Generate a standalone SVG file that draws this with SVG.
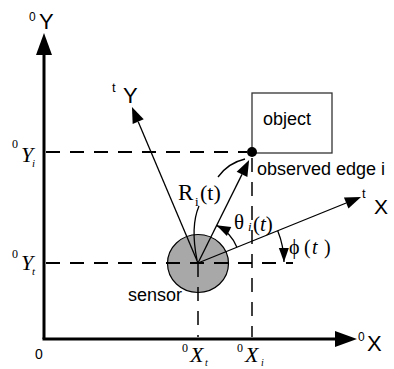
<svg xmlns="http://www.w3.org/2000/svg" width="394" height="369" viewBox="0 0 394 369">
<style>
.sans{font-family:"Liberation Sans",Arial,sans-serif;fill:#000}
.serif{font-family:"Liberation Serif","Times New Roman","DejaVu Serif",serif;fill:#000}
.it{font-style:italic}
.axis{stroke:#000;stroke-width:3;fill:none}
.thin{stroke:#000;stroke-width:1.3;fill:none}
.dash{stroke:#000;stroke-width:2;stroke-dasharray:14 10;fill:none}
.vdash{stroke:#000;stroke-width:1.5;stroke-dasharray:14 10;fill:none}
</style>
<defs>
<marker id="big" markerUnits="userSpaceOnUse" markerWidth="24" markerHeight="18" refX="0" refY="8" orient="auto" overflow="visible"><path d="M0,0 L22,8 L0,16 z" fill="#000"/></marker>
<marker id="small" markerUnits="userSpaceOnUse" markerWidth="18" markerHeight="14" refX="0" refY="6" orient="auto" overflow="visible"><path d="M0,0 L16,6 L0,12 z" fill="#000"/></marker>
<marker id="arc" markerUnits="userSpaceOnUse" markerWidth="16" markerHeight="12" refX="14" refY="5" orient="auto" overflow="visible"><path d="M0,0 L14,5 L0,10 z" fill="#000"/></marker>
</defs>

<g id="sensor">
<ellipse cx="198" cy="263.5" rx="30.5" ry="29" fill="#a8a8a8" stroke="#000" stroke-width="1.2"/>
<text class="sans" x="128" y="301" font-size="18">sensor</text>
</g>

<g id="object">
<rect x="252" y="93" width="80" height="60" fill="#fff" stroke="#333" stroke-width="1.3"/>
<text class="sans" x="263" y="125" font-size="18">object</text>
</g>

<g id="connectors">
<line class="dash" x1="46" y1="152" x2="247" y2="152"/>
<line class="dash" x1="46" y1="263" x2="293" y2="263"/>
<line class="vdash" x1="252" y1="158" x2="252" y2="337"/>
<line class="vdash" x1="198" y1="263" x2="198" y2="337"/>
<line class="axis" x1="44" y1="339" x2="44" y2="55" marker-end="url(#big)"/>
<line class="axis" x1="42.5" y1="339" x2="335" y2="339" marker-end="url(#big)"/>
<line class="thin" x1="198" y1="263" x2="138.2" y2="121.7" marker-end="url(#small)"/>
<line class="thin" x1="198" y1="263" x2="346.2" y2="203" marker-end="url(#small)"/>
<line class="thin" x1="198" y1="263" x2="242" y2="174.4" marker-end="url(#small)"/>
<path class="thin" d="M236.9,247.2 A42,42 0 0 0 216.5,225.3" marker-end="url(#arc)"/>
<path class="thin" d="M277.7,230.7 A86,86 0 0 1 284,262" marker-end="url(#arc)"/>
<path class="thin" d="M218,177 Q228,163 245,159"/>
<path class="thin" d="M199,206 C193,220 193,240 197,260"/>
</g>

<g id="edge">
<circle cx="252" cy="152" r="5" fill="#000"/>
<text class="sans" x="257" y="175" font-size="18">observed edge i</text>
</g>

<g id="labels">
<text class="sans" x="29" y="21" font-size="12">0</text>
<text class="sans" x="39" y="29" font-size="22">Y</text>
<text class="sans" x="358" y="341" font-size="12">0</text>
<text class="sans" x="367" y="351" font-size="22">X</text>
<text class="sans" x="35" y="359" font-size="14">0</text>
<text class="sans" x="112" y="92" font-size="13">t</text>
<text class="sans" x="123" y="103" font-size="22">Y</text>
<text class="sans" x="362" y="198" font-size="13">t</text>
<text class="sans" x="374" y="214" font-size="21">X</text>

<text class="serif" x="12" y="148" font-size="12">0</text>
<text class="serif it" x="21" y="162" font-size="22">Y</text>
<text class="serif it" x="32" y="167" font-size="11">i</text>
<text class="serif" x="12" y="258" font-size="12">0</text>
<text class="serif it" x="21" y="270" font-size="22">Y</text>
<text class="serif it" x="32" y="275" font-size="11">t</text>
<text class="serif" x="182" y="352" font-size="12">0</text>
<text class="serif it" x="190" y="362" font-size="22">X</text>
<text class="serif it" x="205" y="366" font-size="10">t</text>
<text class="serif" x="237" y="352" font-size="12">0</text>
<text class="serif it" x="245" y="362" font-size="22">X</text>
<text class="serif it" x="261" y="366" font-size="10">i</text>

<text class="serif" x="178" y="200" font-size="23">R</text>
<text class="serif" x="195" y="206" font-size="13">i</text>
<text class="serif" x="200" y="200" font-size="22">(t)</text>

<text class="serif" x="234" y="229" font-size="21">θ</text>
<text class="serif it" x="248" y="231" font-size="13">i</text>
<text class="serif" x="253" y="231" font-size="21">(<tspan class="it">t</tspan>)</text>

<text class="serif" x="289" y="254" font-size="20">ϕ</text>
<text class="serif" x="304" y="254" font-size="20">(</text>
<text class="serif it" x="312" y="254" font-size="20">t</text>
<text class="serif" x="324" y="254" font-size="20">)</text>
</g>
</svg>
